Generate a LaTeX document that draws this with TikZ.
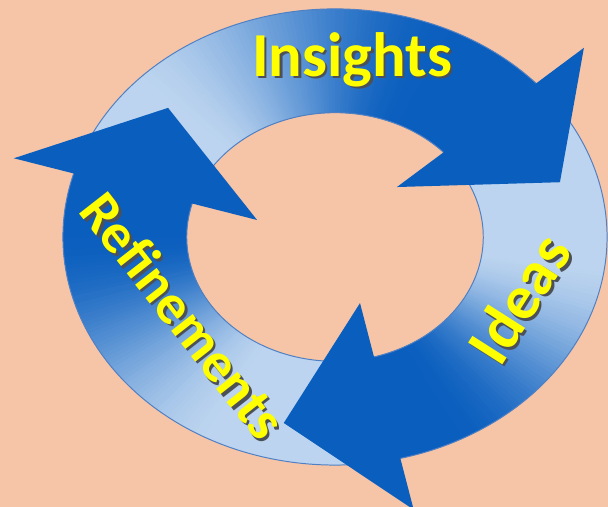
\documentclass[tikz,border=0pt]{standalone}
\usepackage{fontspec}
\setmainfont{Carlito}
\usepackage{xcolor}
\usepackage{tikz}
\definecolor{peach}{HTML}{F6C4A6}
\definecolor{palering}{HTML}{BCD4EF}
\definecolor{deepring}{HTML}{0A5EBE}
\definecolor{ringedge}{HTML}{4F80C4}
\definecolor{labelyellow}{HTML}{FFFF00}
\definecolor{labelshade}{HTML}{4C5058}

\def\outr{1cm}
\def\innr{0.545cm}
% #1 tail angle, #2 end angle (clockwise), #3 last pale angle, #4 first deep angle
\newcommand{\shaftband}[4]{%
  \pgfmathtruncatemacro{\nseg}{#1-(#2)}
  \foreach \k in {0,...,\nseg}{%
    \pgfmathsetmacro{\angA}{#1-\k}
    \pgfmathsetmacro{\angB}{max(#1-\k-1.4,#2)}
    \pgfmathsetmacro{\frac}{min(1,max(0,(#3-\angA)/(#3-(#4))))}
    \pgfmathtruncatemacro{\pct}{100*\frac*\frac*(3-2*\frac)}
    \fill[deepring!\pct!palering] (\angA:\outr) arc[start angle=\angA, end angle=\angB, radius=\outr]
      -- (\angB:\innr) arc[start angle=\angB, end angle=\angA, radius=\innr] -- cycle;
  }
  \draw[ringline] (#1:\outr) arc[start angle=#1, end angle=#2, radius=\outr];
  \draw[ringline] (#1:\innr) arc[start angle=#1, end angle=#2, radius=\innr];
}
% yellow label with its drop shadow, #1/#2 shift of the shadow
\newcommand{\shadowed}[3]{%
  \makebox[0pt][l]{\hspace*{#1}\raisebox{#2}{\textcolor{labelshade}{#3}}}#3}

\begin{document}
\begin{tikzpicture}[x=0.025cm,y=-0.025cm,
    ringline/.style={draw=ringedge,line width=0.7pt},
    lbl/.style={anchor=base,inner sep=0pt,text=labelyellow,
      font=\bfseries\fontsize{44.5}{50}\selectfont}]
  \useasboundingbox (0,0) rectangle (608,507);
  \clip (0,0) rectangle (608,507);
  \fill[peach] (0,0) rectangle (608,507);
  \coordinate (ctr) at (335,237);

  \begin{scope}[shift={(ctr)},x=1cm,y=1cm,xscale=6.8,yscale=5.7]
    % shafts first, heads on top of the next tail
    \shaftband{158}{41}{140}{65}
    \shaftband{35}{-77}{-5}{-62}
    \shaftband{-83}{-197}{-115}{-180}
    \fill[deepring] (42.2:1.235cm) -- (16.2:0.861cm) -- (43.9:0.316cm) -- cycle;
    \fill[deepring] (-76.4:1.23cm) -- (-103:0.837cm) -- (-72.4:0.304cm) -- cycle;
    \fill[deepring] (163.7:1.23cm) -- (137.3:0.835cm) -- (165.4:0.296cm) -- cycle;
  \end{scope}

  \node[lbl] (insights) at (352,76) {\shadowed{1.8pt}{-1.8pt}{Insights}};
  \node[lbl,rotate=57.5] (ideas) at (537,310) {\shadowed{-0.5pt}{-2.4pt}{Ideas}};
  \node[lbl,rotate=-52,font=\bfseries\fontsize{40}{46}\selectfont] (refinements)
    at (168.5,327.5) {\shadowed{2.4pt}{0.3pt}{Refinements}};
\end{tikzpicture}
\end{document}
